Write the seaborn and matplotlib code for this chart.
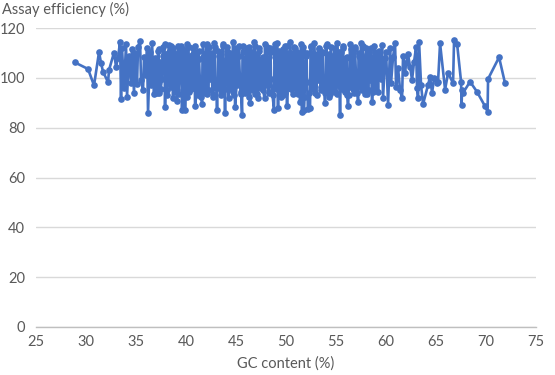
import matplotlib
matplotlib.use("Agg")
import matplotlib.pyplot as plt
import seaborn as sns
import pandas as pd

# GC content (%) of each assay
gc_content = [
    28.9, 30.2, 30.8, 31.3, 31.5, 31.7, 32.2, 32.3, 32.8, 33.0,
    33.2, 33.4, 33.5, 33.6, 33.8, 34.0, 34.1, 34.3, 34.5, 34.6,
    34.8, 34.9, 35.1, 35.2, 35.4, 35.5, 35.7, 35.8, 36.0,
    36.1, 36.2, 36.4, 36.5, 36.6, 36.8, 36.9, 37.0, 37.2, 37.3,
    37.4, 37.6, 37.7, 37.9, 38.0, 38.1, 38.3, 38.4, 38.5, 38.7,
    38.8, 38.9, 39.1, 39.2, 39.3, 39.5, 39.6, 39.7, 39.9, 40.0,
    40.1, 40.3, 40.4, 40.5, 40.7, 40.8, 40.9, 41.1, 41.2, 41.3,
    41.5, 41.6, 41.7, 41.9, 42.0, 42.1, 42.3, 42.4, 42.5, 42.7,
    42.8, 42.9, 43.1, 43.2, 43.3, 43.5, 43.6, 43.7, 43.9, 44.0,
    44.1, 44.3, 44.4, 44.5, 44.7, 44.8, 44.9, 45.1, 45.2, 45.3,
    45.5, 45.6, 45.7, 45.9, 46.0, 46.1, 46.3, 46.4, 46.6, 46.7,
    46.8, 46.9, 47.1, 47.2, 47.3, 47.5, 47.6, 47.7, 47.9, 48.0,
    48.1, 48.3, 48.4, 48.5, 48.8, 48.9, 49.0, 49.1, 49.2, 49.3,
    49.5, 49.6, 49.7, 49.9, 50.1, 50.2, 50.3, 50.4, 50.5, 50.7,
    50.8, 50.9, 51.1, 51.2, 51.4, 51.5, 51.6, 51.7, 51.8, 52.0,
    52.1, 52.2, 52.4, 52.5, 52.7, 52.8, 52.9, 53.1, 53.2, 53.3,
    53.5, 53.6, 53.7, 53.9, 54.0, 54.1, 54.3, 54.4, 54.5, 54.7,
    54.8, 54.9, 55.1, 55.2, 55.4, 55.5, 55.6, 55.7, 55.9, 56.0,
    56.1, 56.2, 56.4, 56.5, 56.7, 56.8, 56.9, 57.1, 57.2, 57.3,
    57.5, 57.6, 57.7, 57.9, 58.0, 58.1, 58.3, 58.4, 58.6, 58.7,
    58.8, 58.9, 59.1, 59.2, 59.3, 59.5, 59.6, 59.7, 59.9, 60.0,
    60.2, 60.4, 60.5, 60.7, 60.9, 61.0, 61.2, 61.4, 61.6, 61.7,
    61.9, 62.0, 62.2, 62.4, 62.6, 62.8, 63.0, 63.1, 63.2, 63.3,
    63.5, 63.7, 64.2, 64.4, 64.6, 64.8, 65.1, 65.2, 65.4, 65.9,
    66.2, 66.7, 66.8, 67.1, 67.5, 67.55, 67.6, 67.7, 68.4, 69.1,
    69.9, 70.15, 70.2, 71.3, 71.9,
    # second batch of assays in the crowded middle range
    37.05, 37.25, 37.45, 37.65, 37.85, 38.05, 38.25, 38.45, 38.65, 38.85,
    39.05, 39.25, 39.45, 39.65, 39.85, 40.05, 40.25, 40.45, 40.65, 40.85,
    41.05, 41.25, 41.45, 41.65, 41.85, 42.05, 42.25, 42.45, 42.65, 42.85,
    43.05, 43.25, 43.45, 43.65, 43.85, 44.05, 44.25, 44.45, 44.65, 44.85,
    45.05, 45.25, 45.45, 45.65, 45.85, 46.05, 46.25, 46.45, 46.65, 46.85,
    47.05, 47.25, 47.45, 47.65, 47.85, 48.05, 48.25, 48.45, 48.65, 48.85,
    49.05, 49.25, 49.45, 49.65, 49.85, 50.05, 50.25, 50.45, 50.65, 50.85,
    51.05, 51.25, 51.45, 51.65, 51.85, 52.05, 52.25, 52.45, 52.65, 52.85,
    53.05, 53.25, 53.45, 53.65, 53.85, 54.05, 54.25, 54.45, 54.65, 54.85,
    55.05, 55.25, 55.45, 55.65, 55.85, 56.05, 56.25, 56.45, 56.65, 56.85,
    57.05, 57.25, 57.45, 57.65, 57.85, 58.05, 58.25, 58.45, 58.65, 58.85,
]

# assay efficiency (%) for each point above
efficiency = [
    106.2, 103.6, 97.0, 110.4, 106.0, 102.5, 98.3, 103.2, 110.2, 104.5,
    108.0, 114.5, 91.6, 112.0, 96.0, 113.5, 92.5, 109.0, 98.0, 111.5,
    94.0, 110.0, 97.5, 112.5, 115.0, 99.0, 95.0, 108.5, 101.0,
    112.0, 86.1, 110.5, 97.0, 114.2, 93.5, 108.0, 96.5, 111.0, 94.0,
    106.5, 99.5, 112.5, 88.2, 109.5, 95.0, 113.3, 97.5, 113.0, 92.0,
    110.0, 96.0, 90.6, 112.8, 99.0, 108.5, 87.1, 111.5, 87.1, 105.0,
    113.5, 94.5, 109.0, 98.0, 112.0, 96.5, 88.8, 110.5, 93.0, 107.5,
    95.5, 89.6, 113.8, 97.0, 110.0, 93.5, 112.5, 99.5, 108.5, 92.5,
    114.0, 96.0, 87.1, 111.0, 100.0, 109.5, 94.0, 113.0, 86.1, 107.0,
    112.5, 95.5, 110.0, 98.5, 114.5, 93.0, 88.2, 111.5, 97.5, 109.0,
    94.5, 85.1, 113.0, 99.0, 108.0, 95.5, 112.5, 90.1, 110.5, 96.5,
    114.3, 93.5, 109.5, 91.8, 112.0, 98.0, 107.5, 95.0, 113.5, 97.0,
    110.5, 94.0, 112.0, 99.5, 87.1, 108.5, 96.0, 114.0, 87.8, 111.0,
    97.5, 109.5, 93.0, 113.0, 88.8, 110.0, 98.5, 114.5, 95.5, 108.0,
    112.5, 96.0, 110.5, 93.5, 90.5, 113.5, 86.5, 111.0, 87.1, 109.0,
    98.5, 87.4, 87.8, 112.5, 96.5, 114.0, 94.0, 108.5, 99.0, 111.5,
    95.0, 110.0, 97.5, 89.8, 113.0, 96.0, 109.5, 93.5, 112.5, 98.0,
    107.5, 94.5, 114.0, 97.0, 85.1, 110.5, 95.5, 112.0, 99.0, 108.0,
    93.0, 88.8, 113.5, 96.5, 110.0, 94.0, 111.5, 98.5, 90.5, 109.0,
    114.0, 95.0, 108.5, 97.5, 112.0, 93.5, 110.5, 99.0, 90.5, 107.0,
    113.0, 96.0, 109.5, 94.5, 111.0, 99.5, 113.3, 92.0, 108.0, 110.5,
    89.2, 112.0, 98.0, 108.5, 113.9, 96.5, 104.0, 95.2, 91.8, 109.0,
    101.9, 106.0, 109.5, 104.5, 99.2, 106.5, 112.3, 95.9, 91.8, 114.6,
    97.0, 89.5, 97.2, 100.5, 93.9, 99.9, 97.9, 98.5, 113.9, 95.3,
    102.0, 97.9, 115.2, 113.8, 98.5, 89.2, 95.0, 94.0, 98.5, 94.4,
    88.6, 86.5, 99.6, 108.3, 97.8,
    94.0, 111.5, 95.5, 109.0, 113.5, 93.0, 110.5, 96.5, 112.0, 94.5,
    108.0, 93.5, 113.0, 95.0, 110.0, 92.5, 112.5, 95.5, 109.5, 113.0,
    94.0, 111.0, 92.5, 108.5, 94.0, 113.5, 95.0, 110.0, 93.5, 112.5,
    96.0, 109.0, 93.0, 113.5, 95.5, 111.0, 92.0, 108.5, 94.5, 112.0,
    97.0, 113.0, 93.5, 110.5, 94.0, 112.0, 92.5, 109.5, 95.0, 113.0,
    93.5, 111.0, 96.0, 108.5, 92.0, 112.5, 94.5, 110.5, 93.0, 113.5,
    95.5, 109.0, 92.5, 111.5, 94.0, 113.0, 96.0, 110.0, 93.5, 112.0,
    94.5, 108.5, 95.0, 112.5, 92.5, 110.0, 94.0, 113.0, 95.5, 109.5,
    93.0, 112.0, 96.5, 110.5, 94.0, 113.5, 92.5, 109.0, 95.0, 112.0,
    93.5, 110.5, 96.0, 113.0, 94.5, 108.5, 93.0, 111.5, 95.5, 112.5,
    94.0, 110.0, 96.5, 113.0, 93.5, 109.5, 95.0, 112.0, 94.5, 110.5,
]

df = pd.DataFrame({"gc": gc_content, "eff": efficiency})
df = df.sort_values("gc", kind="stable")

blue = "#4472C4"
text_col = "#595959"

sns.set_style("white")
plt.rcParams["font.family"] = ["Lato", "DejaVu Sans"]

fig = plt.figure(figsize=(5.55, 3.75), dpi=100)
ax = fig.add_axes([0.0649, 0.128, 0.901, 0.797])

sns.lineplot(data=df, x="gc", y="eff", ax=ax, sort=False, estimator=None,
             color=blue, linewidth=1.9, marker="o", markersize=4.8,
             markeredgewidth=0, zorder=3)

ax.set_xlim(25, 75)
ax.set_ylim(0, 120)
ax.set_xticks(range(25, 80, 5))
ax.set_yticks(range(0, 140, 20))
ax.grid(axis="y", color="#d9d9d9", linewidth=1)
ax.grid(axis="x", visible=False)
for side in ["left", "right", "top"]:
    ax.spines[side].set_visible(False)
ax.spines["bottom"].set_color("#bfbfbf")
ax.spines["bottom"].set_linewidth(1)
ax.tick_params(axis="both", length=0, labelsize=10.5, labelcolor=text_col)
ax.tick_params(axis="x", pad=6)
ax.tick_params(axis="y", pad=8)

ax.set_xlabel("GC content (%)", fontsize=10.5, color=text_col, labelpad=5)
ax.set_ylabel("")
fig.text(0.003, 0.975, "Assay efficiency (%)", fontsize=10.5, color=text_col,
         ha="left", va="center")

fig.savefig("out.png", dpi=100)
